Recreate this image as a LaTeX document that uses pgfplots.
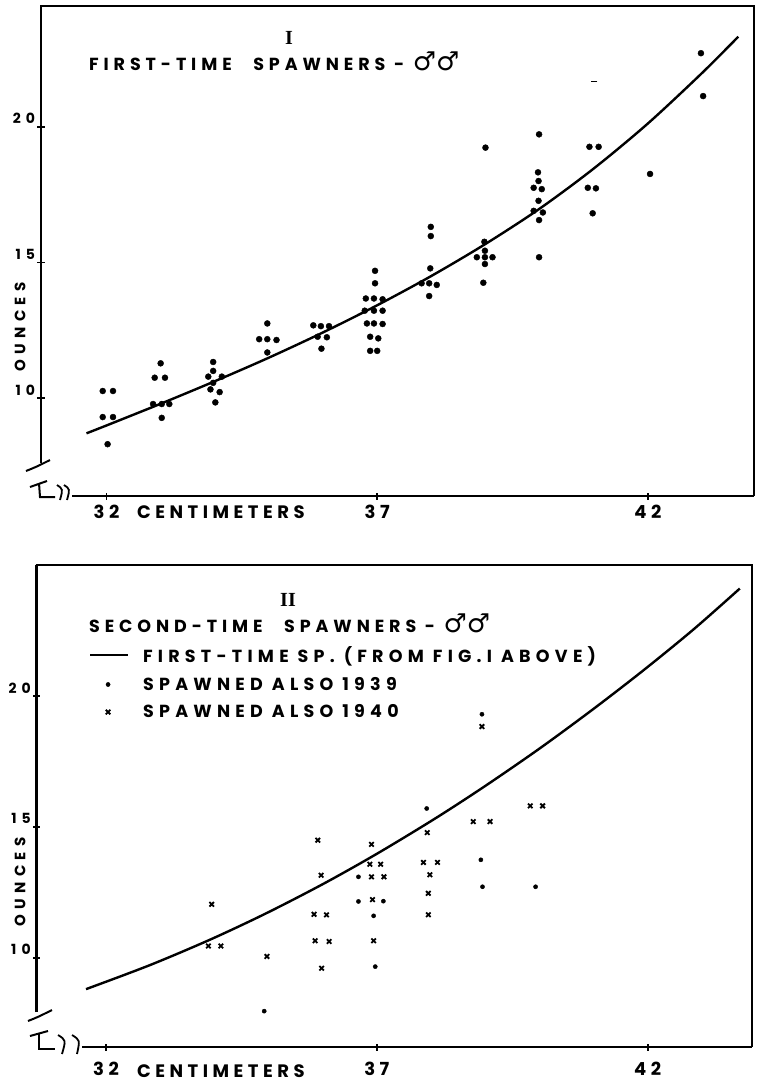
\documentclass[border=0pt]{standalone}
\usepackage{fontspec}
\usepackage{pgfplots}
\pgfplotsset{compat=1.18}
\setmainfont{Poppins}
\newfontfamily\handf{Poppins}[LetterSpace=25]
\newfontfamily\titlef{Poppins}[LetterSpace=28]
\newfontfamily\legf{Poppins}[LetterSpace=30]
\newfontfamily\handwidef{Poppins}[LetterSpace=36]
\newcommand\hand{\handf\bfseries}
\newcommand\titlefont{\titlef\bfseries}
\newcommand\legfont{\legf\bfseries}
\newcommand\handwide{\handwidef\bfseries}
\newfontfamily\sym{DejaVu Sans}
\newfontfamily\serif{Liberation Serif}

\pgfplotstableread{
x y
31.93 10.26
32.12 10.26
31.93 9.30
32.12 9.30
32.02 8.30
33.00 11.28
32.89 10.75
33.08 10.75
32.86 9.78
33.02 9.78
33.16 9.78
33.02 9.27
33.97 11.33
33.97 11.00
33.88 10.79
34.13 10.79
33.97 10.56
33.92 10.32
34.09 10.22
34.01 9.84
34.97 12.75
34.82 12.17
34.97 12.17
35.14 12.14
34.97 11.68
35.82 12.68
35.96 12.65
36.11 12.65
35.90 12.26
36.07 12.24
35.97 11.82
36.96 14.69
36.96 14.23
36.79 13.67
36.94 13.67
37.10 13.64
36.77 13.22
36.94 13.22
37.10 13.22
36.81 12.75
36.94 12.75
37.10 12.73
36.87 12.26
37.02 12.20
36.87 11.74
37.00 11.74
37.99 16.31
37.99 15.97
37.98 14.78
37.82 14.23
37.96 14.23
38.10 14.17
37.96 13.76
39.00 19.23
38.98 15.76
38.99 15.43
38.84 15.19
38.99 15.19
39.13 15.19
38.99 14.94
38.96 14.25
39.99 19.72
39.97 18.32
39.98 18.00
39.89 17.75
40.04 17.70
39.98 17.27
39.89 16.90
40.06 16.84
39.99 16.56
39.99 15.19
40.92 19.26
41.09 19.26
40.89 17.75
41.04 17.73
40.98 16.81
42.04 18.26
42.98 22.71
43.02 21.13
}\firstdots

\pgfplotstableread{
x y
31.63 8.70
32.00 8.99
33.00 9.79
34.00 10.62
35.00 11.49
36.00 12.42
37.00 13.42
38.00 14.50
39.00 15.68
40.00 16.98
41.00 18.46
42.00 20.12
43.00 21.98
43.67 23.32
}\firstcurve

\pgfplotstableread{
x y
31.63 8.80
32.80 9.71
33.92 10.69
34.95 11.69
36.01 12.82
37.00 13.97
38.07 15.31
39.00 16.56
40.01 18.00
40.99 19.49
41.91 20.96
42.84 22.53
43.70 24.10
}\secondcurve

\pgfplotstableread{
x y
34.92 7.96
36.66 13.09
36.66 12.15
37.12 12.16
36.94 11.60
36.97 9.66
37.92 15.70
38.92 13.74
38.95 12.71
38.94 19.30
39.93 12.71
}\dotsnineteen

\pgfplotstableread{
x y
33.95 12.04
33.89 10.45
34.12 10.45
34.97 10.05
35.91 14.49
35.97 13.15
35.84 11.66
36.07 11.64
35.86 10.65
36.12 10.62
35.98 9.60
36.90 14.33
36.87 13.57
37.07 13.57
36.90 13.09
37.13 13.09
36.92 12.22
36.94 10.65
37.93 14.78
37.86 13.64
38.12 13.64
37.98 13.17
37.95 12.46
37.95 11.64
38.78 15.20
39.09 15.20
38.94 18.83
39.83 15.80
40.06 15.80
}\xforty

\pgfplotsset{
  handaxis/.style={
    scale only axis,
    axis line style={draw=none},
    tick pos=left,
    tick align=center,
    major tick length=7pt,
    tick style={line width=1.6pt, black},
    xtick={32,37,42},
    xticklabels={32,37,42},
    ytick={10,15,20},
    yticklabels={10,15,20},
    /pgf/number format/assume math mode=true,
    xticklabel style={font=\hand\fontsize{18}{18}\selectfont},
    yticklabel style={font=\handwide\fontsize{14}{14}\selectfont, yshift=8pt, xshift=1pt},
    clip=false,
  },
  lineleg/.style={legend image code/.code={\draw[line width=2pt] (0pt,0pt) -- (38pt,0pt);}},
  markleg/.style={legend image code/.code={\path (0pt,0pt) (38pt,0pt); \draw[##1] plot coordinates {(18pt,0pt)};}},
}

\begin{document}
\begin{tikzpicture}
\useasboundingbox (0pt,0pt) rectangle (757pt,-1082pt);

% ---------- Figure I ----------
\begin{axis}[handaxis,
  at={(41pt,-6pt)}, anchor=north west,
  width=713pt, height=490pt,
  xmin=30.79, xmax=43.96, ymin=6.39, ymax=24.45,
  xticklabel style={yshift=-2pt},
]
\addplot[black, line width=2.4pt, smooth] table {\firstcurve};
\addplot[only marks, mark=*, mark size=3pt, black] table {\firstdots};
\addplot[only marks, mark=-, mark size=3pt, black, line width=1pt] coordinates {(41.01,21.66)};
\end{axis}

% frame and break marks, figure I
\draw[line width=2.8pt] (41pt,-463pt) -- (41pt,-6pt);
\draw[line width=2.4pt] (40pt,-6pt) -- (754pt,-6pt) -- (754pt,-496pt);
\draw[line width=2.4pt] (72pt,-496pt) -- (754pt,-496pt);
\draw[line width=2pt] (26pt,-471pt) .. controls (36pt,-467pt) .. (50pt,-460pt);
\draw[line width=2pt] (30pt,-487pt) -- (47pt,-481pt);
\draw[line width=2pt] (39pt,-483pt) -- (40pt,-497pt) -- (55pt,-497pt);
\draw[line width=1.8pt] (57pt,-485pt) .. controls (63pt,-489pt) .. (60pt,-500pt);
\draw[line width=1.8pt] (64pt,-485pt) .. controls (70pt,-489pt) .. (67pt,-500pt);

\node[font=\serif\bfseries\fontsize{20}{20}\selectfont] at (289pt,-38pt) {I};
\node[anchor=base west, inner sep=0pt, font=\titlefont\fontsize{17.5}{17.5}\selectfont]
  at (89pt,-70.7pt) {FIRST-TIME\hspace{13pt} SPAWNERS - {\sym\bfseries\fontsize{26}{26}\selectfont ♂♂}};
\node[rotate=90, font=\handwide\fontsize{15}{15}\selectfont] at (20pt,-327pt) {OUNCES};
\node[anchor=base west, inner sep=0pt, font=\hand\fontsize{18}{18}\selectfont] at (137pt,-518pt) {CENTIMETERS};

% ---------- Figure II ----------
\begin{axis}[handaxis,
  at={(36.7pt,-565pt)}, anchor=north west,
  width=715pt, height=482pt,
  xmin=30.72, xmax=43.92, ymin=6.59, ymax=25.0,
  xticklabel style={yshift=-8pt},
  legend cell align=left,
  legend style={draw=none, fill=none, at={(0.073,0.835)}, anchor=north west,
    font=\legfont\fontsize{17.5}{17.5}\selectfont, inner sep=0pt, row sep=9pt,
    /tikz/every odd column/.append style={column sep=12pt}},
]
\addplot[black, line width=2.4pt, smooth, lineleg] table {\secondcurve};
\addlegendentry{FIRST-TIME SP. (FROM FIG.I ABOVE)}
\addplot[only marks, mark=*, mark size=2.1pt, black, markleg] table {\dotsnineteen};
\addlegendentry{SPAWNED ALSO 1939}
\addplot[only marks, mark=x, mark size=3.2pt, black, line width=1.8pt, markleg] table {\xforty};
\addlegendentry{SPAWNED ALSO 1940}
\end{axis}

% frame and break marks, figure II
\draw[line width=2.8pt] (36.7pt,-1012pt) -- (36.7pt,-565pt);
\draw[line width=2.4pt] (35.7pt,-565pt) -- (751.7pt,-565pt) -- (751.7pt,-1047pt);
\draw[line width=2.4pt] (82pt,-1047pt) -- (751.7pt,-1047pt);
\draw[line width=2pt] (28pt,-1021pt) .. controls (38pt,-1017pt) .. (52pt,-1010pt);
\draw[line width=2pt] (30pt,-1036pt) -- (48pt,-1031pt);
\draw[line width=2pt] (39pt,-1033pt) -- (39pt,-1049pt) -- (55pt,-1049pt);
\draw[line width=1.8pt] (58pt,-1035pt) .. controls (66pt,-1040pt) .. (62pt,-1054pt);
\draw[line width=1.8pt] (72pt,-1035pt) .. controls (80pt,-1040pt) .. (77pt,-1054pt);

\node[font=\serif\bfseries\fontsize{20}{20}\selectfont] at (288pt,-600pt) {II};
\node[anchor=base west, inner sep=0pt, font=\titlefont\fontsize{17.5}{17.5}\selectfont]
  at (89pt,-632pt) {SECOND-TIME\hspace{13pt} SPAWNERS - {\sym\bfseries\fontsize{26}{26}\selectfont ♂♂}};
\node[rotate=90, font=\handwide\fontsize{15}{15}\selectfont] at (20pt,-882pt) {OUNCES};
\node[anchor=base west, inner sep=0pt, font=\hand\fontsize{18}{18}\selectfont] at (137pt,-1077pt) {CENTIMETERS};
\end{tikzpicture}
\end{document}
